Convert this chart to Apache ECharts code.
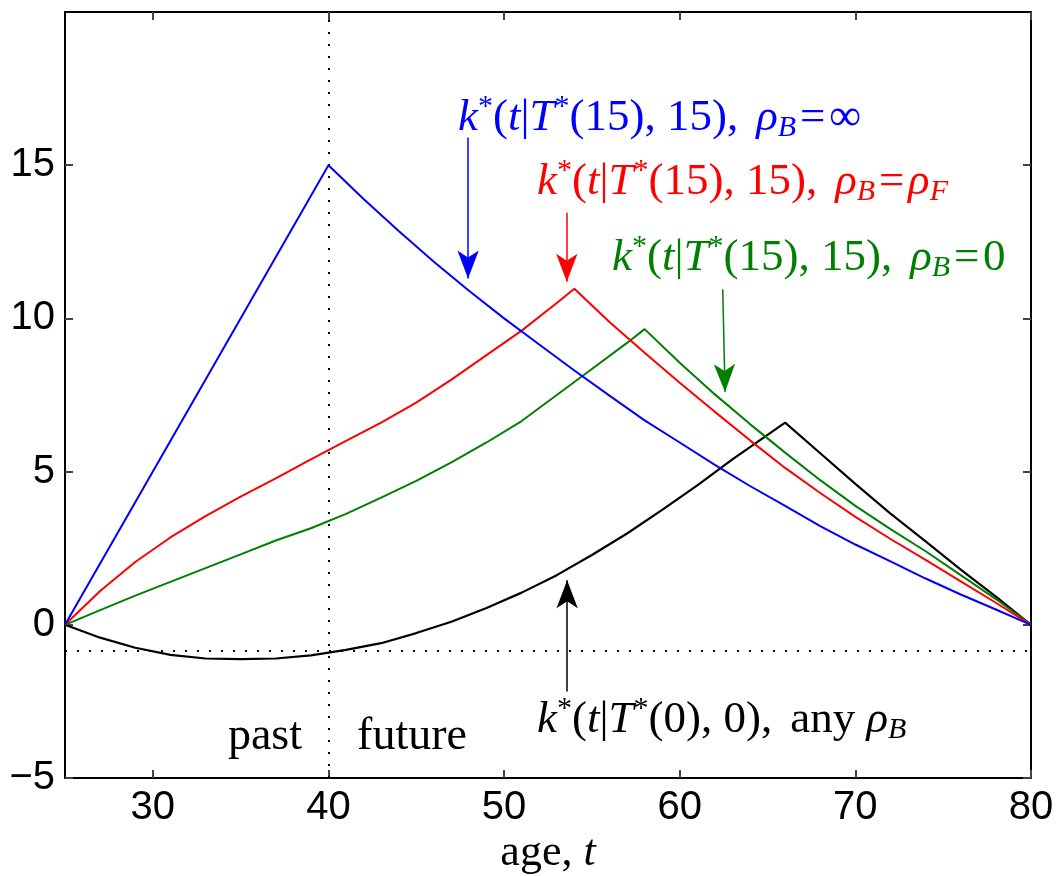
<!DOCTYPE html>
<html><head><meta charset="utf-8">
<script src="https://cdn.jsdelivr.net/npm/echarts@6/dist/echarts.min.js"></script>
<style>html,body{margin:0;padding:0;background:#fff}#c{width:1060px;height:876px}</style>
</head><body><div id="c"></div>
<script>
// ---- data ----
const xTicks = [30, 40, 50, 60, 70, 80];
const yTicks = [-5, 0, 5, 10, 15];

const blueAge = [25, 40, 42, 44, 46, 48, 50, 52, 54, 56, 58, 60, 62, 64, 66, 68, 70, 72, 74, 76, 78, 80];
const blueK   = [0, 15, 13.9, 12.85, 11.85, 10.9, 10.0, 9.15, 8.3, 7.48, 6.67, 5.95, 5.22, 4.53, 3.88, 3.22, 2.62, 2.07, 1.51, 0.99, 0.5, 0];

const redAge = [25, 27, 29, 31, 33, 35, 37, 39, 41, 43, 45, 47, 49, 51, 53, 54, 56, 58, 60, 62, 64, 66, 68, 70, 72, 74, 76, 78, 80];
const redK   = [0, 1.1, 2.05, 2.85, 3.55, 4.18, 4.78, 5.4, 6.0, 6.6, 7.25, 8.0, 8.8, 9.6, 10.5, 10.97, 9.88, 8.88, 7.9, 6.95, 6.02, 5.12, 4.3, 3.52, 2.8, 2.12, 1.42, 0.72, 0];

const greenAge = [25, 27, 29, 31, 33, 35, 37, 39, 41, 43, 45, 47, 49, 51, 53, 55, 57, 58, 60, 62, 64, 66, 68, 70, 72, 74, 76, 78, 80];
const greenK   = [0, 0.48, 0.95, 1.4, 1.85, 2.3, 2.75, 3.15, 3.62, 4.15, 4.7, 5.3, 5.95, 6.65, 7.5, 8.35, 9.2, 9.65, 8.55, 7.52, 6.55, 5.62, 4.72, 3.88, 3.12, 2.4, 1.62, 0.84, 0];

const blackAge = [25, 27, 29, 31, 33, 35, 37, 39, 41, 43, 45, 47, 49, 51, 53, 55, 57, 59, 61, 63, 65, 66, 68, 70, 72, 74, 76, 78, 80];
const blackK   = [0, -0.42, -0.75, -0.98, -1.1, -1.12, -1.1, -1.0, -0.82, -0.6, -0.27, 0.1, 0.55, 1.05, 1.62, 2.28, 2.98, 3.75, 4.55, 5.4, 6.2, 6.6, 5.6, 4.6, 3.63, 2.72, 1.8, 0.92, 0];

const pastAge = 40;          // vertical dotted divider
const refLevel = -0.86;      // horizontal dotted reference level

// arrows: [x0, y0, x1, y1] in data units (tail -> tip)
const blueArrow  = [47.95, 15.9, 47.95, 11.3];
const redArrow   = [53.57, 13.45, 53.57, 11.2];
const greenArrow = [62.45, 10.95, 62.58, 7.6];
const blackArrow = [53.59, -2.18, 53.59, 1.45];

const zip = (a, b) => a.map((v, i) => [v, b[i]]);

const SERIF = 'Liberation Serif';
function richStyles(fs) {
  const small = Math.round(fs * 0.66);
  return {
    n: {fontFamily: SERIF, fontSize: fs, lineHeight: fs + 6},
    i: {fontFamily: SERIF, fontSize: fs, fontStyle: 'italic', lineHeight: fs + 6},
    s: {fontFamily: SERIF, fontSize: small, verticalAlign: 'top', lineHeight: Math.round(fs * 0.6)},
    b: {fontFamily: SERIF, fontSize: small, fontStyle: 'italic', verticalAlign: 'bottom', lineHeight: Math.round(fs * 0.6)}
  };
}
function label(x, y, text, color, fs, align) {
  return {
    type: 'text', x: x, y: y, silent: true, z: 100,
    style: {text: text, fill: color, fontFamily: SERIF, fontSize: fs,
            align: align || 'left', verticalAlign: 'middle', rich: richStyles(fs)}
  };
}
const kT15 = '{i|k}{s|*}{n|(}{i|t}{n||}{i|T}{s|*}{n|(15), 15),\u2009\u2009}';

function arrowLine(a, color) {
  return [
    {coord: [a[0], a[1]], symbol: 'none'},
    {coord: [a[2], a[3]], symbol: 'arrow', symbolSize: [16, 28],
     lineStyle: {color: color, width: 1.5, type: 'solid'}, itemStyle: {color: color}}
  ];
}
function arrowMark(a, color, extra) {
  const d = [arrowLine(a, color)].concat(extra || []);
  return {
    silent: true, animation: false, label: {show: false}, emphasis: {disabled: true},
    symbol: ['none', 'arrow'],
    lineStyle: {color: color, width: 1.5, type: 'solid'},
    data: d
  };
}

const chart = echarts.init(document.getElementById('c'), null, {renderer: 'canvas'});
const axisCommon = {
  type: 'value',
  axisLine: {show: true, onZero: false, lineStyle: {color: '#000', width: 2}},
  splitLine: {show: false}
};
const tickStyle = {show: true, inside: true, length: 8, lineStyle: {color: '#444', width: 2}};

chart.setOption({
  animation: false,
  backgroundColor: '#fff',
  grid: {left: 65, right: 29, top: 12, bottom: 98, containLabel: false},
  xAxis: [
    Object.assign({}, axisCommon, {
      min: 25, max: 80, position: 'bottom',
      axisTick: Object.assign({}, tickStyle, {customValues: xTicks}),
      axisLabel: {customValues: xTicks, margin: 10, fontFamily: 'Liberation Sans', fontSize: 40, color: '#000'}
    }),
    Object.assign({}, axisCommon, {
      min: 25, max: 80, position: 'top',
      axisTick: Object.assign({}, tickStyle, {customValues: xTicks}),
      axisLabel: {show: false}
    })
  ],
  yAxis: [
    Object.assign({}, axisCommon, {
      min: -5, max: 20, interval: 5, position: 'left',
      axisTick: Object.assign({}, tickStyle, {customValues: yTicks}),
      axisLabel: {customValues: yTicks, margin: 10, fontFamily: 'Liberation Sans', fontSize: 40, color: '#000',
                  formatter: v => (v < 0 ? '\u2212' + Math.abs(v) : String(v))}
    }),
    Object.assign({}, axisCommon, {
      min: -5, max: 20, interval: 5, position: 'right',
      axisTick: Object.assign({}, tickStyle, {customValues: yTicks}),
      axisLabel: {show: false}
    })
  ],
  series: [
    {
      type: 'line', name: 'black', data: zip(blackAge, blackK), showSymbol: false, symbol: 'none',
      lineStyle: {color: '#000', width: 2.2}, itemStyle: {color: '#000'}, z: 3,
      markLine: arrowMark(blackArrow, '#000', [
        [{coord: [pastAge, -5], symbol: 'none', lineStyle: {color: '#000', width: 2, type: [2, 10]}},
         {coord: [pastAge, 20], symbol: 'none'}],
        [{coord: [25, refLevel], symbol: 'none', lineStyle: {color: '#000', width: 2, type: [2, 10]}},
         {coord: [80, refLevel], symbol: 'none'}]
      ])
    },
    {
      type: 'line', name: 'green', data: zip(greenAge, greenK), showSymbol: false, symbol: 'none',
      lineStyle: {color: '#008000', width: 2}, itemStyle: {color: '#008000'}, z: 4,
      markLine: arrowMark(greenArrow, '#008000')
    },
    {
      type: 'line', name: 'red', data: zip(redAge, redK), showSymbol: false, symbol: 'none',
      lineStyle: {color: '#ff0000', width: 2}, itemStyle: {color: '#ff0000'}, z: 5,
      markLine: arrowMark(redArrow, '#ff0000')
    },
    {
      type: 'line', name: 'blue', data: zip(blueAge, blueK), showSymbol: false, symbol: 'none',
      lineStyle: {color: '#0000ff', width: 2}, itemStyle: {color: '#0000ff'}, z: 6,
      markLine: arrowMark(blueArrow, '#0000ff')
    }
  ],
  graphic: [
    label(458, 118, kT15 + '{i|ρ}{b|B}{n|\u200a=\u200a∞}', '#0000ff', 45),
    label(537, 182, kT15 + '{i|ρ}{b|B}{n|\u200a=\u200a}{i|ρ}{b|F}', '#ff0000', 45),
    label(612, 258, kT15 + '{i|ρ}{b|B}{n|\u200a=\u200a0}', '#008000', 45),
    label(537, 720, '{i|k}{s|*}{n|(}{i|t}{n||}{i|T}{s|*}{n|(0), 0),\u2009\u2009any }{i|ρ}{b|B}', '#000', 45),
    label(265, 737, '{n|past}', '#000', 46, 'center'),
    label(412, 737, '{n|future}', '#000', 46, 'center'),
    label(548, 853, '{n|age, }{i|t}', '#000', 44, 'center')
  ]
});
</script>
</body></html>
